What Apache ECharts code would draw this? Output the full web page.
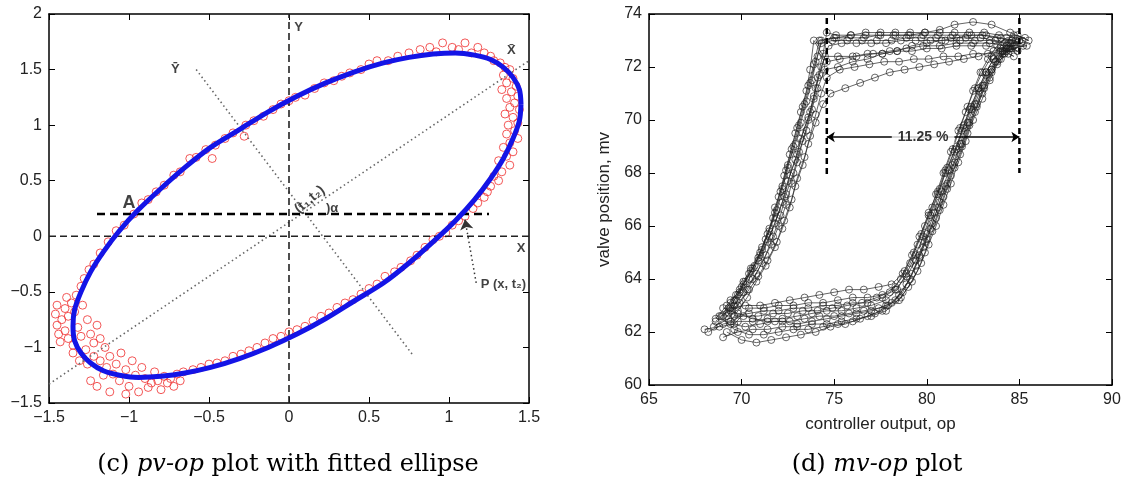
<!DOCTYPE html>
<html>
<head>
<meta charset="utf-8">
<script src="https://cdn.jsdelivr.net/npm/echarts@6/dist/echarts.min.js"></script>
<style>html,body{margin:0;padding:0;background:#fff}#c{width:1132px;height:482px}</style>
</head>
<body>
<div id="c"></div>
<script>
// ---------- left panel (pv-op) data ----------
const leftXTicks = [-1.5, 1.5, 0.5];
const leftYTicks = [-1.5, 2, 0.5];
// fitted ellipse
const ellipsePts = [
  [1.45,1.19],[1.44,1.32],[1.40,1.43],[1.34,1.52],[1.26,1.59],[1.16,1.63],[1.04,1.65],[0.90,1.64],
  [0.75,1.61],[0.59,1.56],[0.41,1.48],[0.23,1.38],[0.05,1.26],[-0.13,1.12],[-0.31,0.96],[-0.49,0.80],
  [-0.65,0.62],[-0.80,0.43],[-0.94,0.24],[-1.06,0.05],[-1.16,-0.14],[-1.24,-0.32],[-1.30,-0.50],[-1.34,-0.66],
  [-1.35,-0.81],[-1.34,-0.94],[-1.30,-1.05],[-1.24,-1.14],[-1.16,-1.21],[-1.06,-1.25],[-0.94,-1.27],[-0.80,-1.26],
  [-0.65,-1.23],[-0.49,-1.18],[-0.31,-1.10],[-0.13,-1.00],[0.05,-0.88],[0.23,-0.74],[0.41,-0.58],[0.59,-0.42],
  [0.75,-0.24],[0.90,-0.05],[1.04,0.14],[1.16,0.33],[1.26,0.52],[1.34,0.70],[1.40,0.88],[1.44,1.04],[1.45,1.19]
];
const upperArcPts = [
  [-1.22,-0.25],[-1.18,-0.15],[-1.13,-0.05],[-1.08,0.05],[-1.03,0.10],[-0.97,0.20],[-0.92,0.30],
  [-0.88,0.33],[-0.83,0.40],[-0.78,0.46],[-0.72,0.55],[-0.68,0.58],[-0.62,0.70],[-0.58,0.71],
  [-0.52,0.78],[-0.48,0.70],[-0.46,0.82],[-0.40,0.88],[-0.35,0.93],[-0.28,0.90],[-0.27,1.00],
  [-0.22,1.04],[-0.16,1.08],[-0.10,1.14],[-0.05,1.19],[0.00,1.22],[0.04,1.25],[0.10,1.27],
  [0.16,1.33],[0.22,1.38],[0.28,1.40],[0.33,1.44],[0.38,1.47],[0.45,1.50],[0.50,1.55],
  [0.55,1.58],[0.62,1.58],[0.68,1.62],[0.75,1.65],[0.82,1.68],[0.88,1.70],[0.92,1.66],
  [0.96,1.74],[1.02,1.70],[1.06,1.68],[1.10,1.74],[1.14,1.65],[1.18,1.70],[1.22,1.65],
  [1.26,1.62],[1.28,1.58],[1.32,1.56],[1.35,1.52]
];
const rightEndPts = [
  [1.38,1.50],[1.34,1.45],[1.40,1.42],[1.36,1.38],[1.42,1.35],[1.33,1.32],[1.39,1.30],
  [1.43,1.26],[1.36,1.24],[1.41,1.20],[1.38,1.16],[1.44,1.14],[1.35,1.10],[1.40,1.07],
  [1.43,1.02],[1.37,1.00],[1.41,0.95],[1.36,0.92],[1.43,0.88],[1.38,0.84],[1.34,0.80],
  [1.40,0.76],[1.36,0.72],[1.31,0.68],[1.38,0.64],[1.33,0.58],[1.28,0.54],[1.31,0.50],
  [1.26,0.45],[1.24,0.40],[1.22,0.35],[1.18,0.30],[1.15,0.25]
];
const lowerArcPts = [
  [1.10,0.18],[1.06,0.14],[1.02,0.10],[0.98,0.03],[0.94,0.00],[0.90,-0.03],[0.85,-0.10],
  [0.80,-0.17],[0.76,-0.22],[0.70,-0.28],[0.66,-0.32],[0.60,-0.36],[0.55,-0.43],[0.50,-0.47],
  [0.45,-0.52],[0.40,-0.57],[0.35,-0.60],[0.30,-0.64],[0.25,-0.69],[0.20,-0.72],[0.15,-0.76],
  [0.10,-0.81],[0.05,-0.84],[0.00,-0.86],[-0.05,-0.90],[-0.10,-0.92],[-0.15,-0.96],[-0.20,-1.00],
  [-0.25,-1.03],[-0.30,-1.06],[-0.35,-1.08],[-0.40,-1.12],[-0.45,-1.14],[-0.50,-1.15],
  [-0.55,-1.18],[-0.60,-1.20],[-0.66,-1.22],[-0.70,-1.24],[-0.74,-1.28],[-0.78,-1.26],
  [-0.82,-1.30],[-0.86,-1.32],[-0.90,-1.28]
];
const leftEndPts = [
  [-1.45,-0.80],[-1.44,-0.88],[-1.46,-0.70],[-1.42,-0.75],[-1.43,-0.95],[-1.40,-0.85],
  [-1.40,-0.65],[-1.38,-0.72],[-1.38,-0.92],[-1.36,-0.60],[-1.35,-0.98],[-1.33,-0.53],
  [-1.34,-0.68],[-1.32,-0.82],[-1.30,-0.45],[-1.30,-0.90],[-1.29,-0.62],[-1.28,-0.38],
  [-1.27,-1.02],[-1.26,-0.75],[-1.25,-0.30],[-1.24,-0.88],[-1.22,-1.08],[-1.22,-0.96],
  [-1.20,-0.80],[-1.18,-1.12],[-1.18,-0.92],[-1.15,-1.00],[-1.14,-1.18],[-1.12,-1.08],
  [-1.10,-1.24],[-1.08,-1.15],[-1.06,-1.30],[-1.05,-1.05],[-1.02,-1.20],[-1.00,-1.35],
  [-0.98,-1.12],[-0.96,-1.25],[-0.94,-1.40],[-0.92,-1.18],[-0.88,-1.36],[-0.84,-1.22],
  [-0.80,-1.38],[-0.76,-1.32],[-0.72,-1.35],[-0.68,-1.30],[-1.24,-1.30],[-1.20,-1.35],
  [-1.12,-1.40],[-1.35,-1.05],[-1.26,-1.15],[-1.16,-1.25],[-1.02,-1.42],[-1.31,-1.12],
  [-1.45,-0.62],[-1.39,-0.55]
];
const yAxisDash = [[0,-1.5],[0,2]];
const xAxisDash = [[-1.5,0],[1.5,0]];
const chordDash = [[-1.2,0.2],[1.25,0.2]];
const majorAxisDots = [[-1.5,-1.33],[1.5,1.58]];
const minorAxisDots = [[-0.58,1.5],[0.78,-1.08]];
const pArrow = [[1.17,-0.42],[1.1,0.15]];
const leftNotes = [
  ['Y', 0.06, 1.88],
  ['X', 1.45, -0.11],
  ['X\u0304', 1.39, 1.67],
  ['Y\u0304', -0.71, 1.50],
  ['A', -1.0, 0.30],
  ['P (x, t\u2082)', 1.34, -0.43],
  ['(t\u2081,t\u2082)', 0.13, 0.33],
  [')\u03b1', 0.27, 0.25]
];

// ---------- right panel (mv-op) data ----------
const rightXTicks = [65, 90, 5];
const rightYTicks = [60, 74, 2];
const loopA = [[69.6,62.6],[70.4,62.7],[71.2,62.8],[72.0,62.8],[72.8,62.9],[73.6,62.9],[74.4,63.0],[75.2,63.0],[76.0,63.1],[76.8,63.1],[77.6,63.3],[78.3,63.6],
  [78.9,64.1],[79.4,64.7],[79.9,65.4],[80.3,66.1],[80.7,66.9],[81.1,67.6],[81.5,68.4],[81.9,69.1],[82.3,69.9],[82.7,70.6],[83.1,71.3],[83.5,71.9],[83.9,72.4],[84.3,72.7],[84.7,72.8],[85.1,72.9],
  [84.5,72.9],[83.7,73.0],[82.9,73.1],[82.1,73.1],[81.3,73.1],[80.5,73.1],[79.7,73.1],[78.9,73.1],[78.1,73.0],[77.3,73.0],[76.5,73.0],[75.7,73.0],[74.9,73.0],[74.3,72.9],
  [74.0,72.2],[73.7,71.4],[73.4,70.6],[73.1,69.8],[72.8,69.0],[72.5,68.2],[72.2,67.4],[71.9,66.6],[71.5,65.8],[71.1,65.1],[70.6,64.4],[70.1,63.8],[69.7,63.2],[69.5,62.8]];
const loopB = [[69.2,62.0],[70.0,61.7],[70.8,61.6],[71.6,61.7],[72.4,61.8],[73.2,61.9],[74.0,62.0],[74.8,62.2],[75.6,62.3],[76.4,62.5],[77.2,62.7],[77.9,63.0],[78.5,63.4],
  [79.1,64.0],[79.6,64.8],[80.0,65.5],[80.5,66.3],[80.9,67.1],[81.3,67.9],[81.8,68.7],[82.2,69.5],[82.6,70.3],[83.0,71.0],[83.4,71.6],[83.8,72.2],[84.2,72.6],[84.6,72.9],[85.0,73.0],
  [84.4,72.7],[83.6,72.6],[82.8,72.4],[82.0,72.3],[81.2,72.2],[80.4,72.1],[79.6,72.0],[78.8,71.9],[78.0,71.8],[77.2,71.6],[76.4,71.4],[75.6,71.2],[74.8,71.0],
  [74.4,70.6],[74.0,69.9],[73.6,69.1],[73.3,68.3],[72.9,67.5],[72.6,66.7],[72.2,65.9],[71.8,65.2],[71.3,64.5],[70.8,63.9],[70.3,63.3],[69.8,62.8],[69.4,62.4]];
const loopC = [[68.6,62.4],[69.4,62.9],[70.2,63.0],[71.0,63.0],[71.8,63.1],[72.6,63.2],[73.4,63.3],[74.2,63.4],[75.0,63.5],[75.8,63.6],[76.6,63.6],[77.4,63.7],[78.1,63.8],
  [78.7,64.2],[79.2,64.9],[79.6,65.6],[80.1,66.4],[80.5,67.2],[80.9,68.0],[81.3,68.8],[81.7,69.6],[82.1,70.3],[82.5,71.1],[82.9,71.8],[83.3,72.3],[83.8,72.8],[84.3,73.1],[84.9,73.2],[85.5,73.0],
  [84.5,73.3],[83.5,73.6],[82.5,73.7],[81.5,73.6],[80.7,73.4],[79.9,73.3],[79.1,73.3],[78.3,73.3],[77.5,73.3],[76.7,73.3],[75.9,73.2],[75.1,73.2],[74.6,73.3],
  [74.4,72.5],[74.1,71.6],[73.9,70.8],[73.6,70.0],[73.3,69.2],[73.0,68.4],[72.7,67.6],[72.4,66.8],[72.0,66.0],[71.6,65.3],[71.1,64.6],[70.6,64.0],[70.1,63.5],[69.6,63.0],[69.0,62.6]];
const loopD = [[68.2,62.0],[69.0,62.3],[69.8,62.4],[70.6,62.4],[71.4,62.5],[72.2,62.5],[73.0,62.6],[73.8,62.7],[74.6,62.8],[75.4,62.8],[76.2,62.9],[77.0,63.0],[77.8,63.2],
  [78.4,63.6],[78.9,64.2],[79.4,64.9],[79.8,65.6],[80.2,66.4],[80.6,67.2],[81.0,68.0],[81.5,68.8],[81.9,69.6],[82.3,70.4],[82.8,71.2],[83.2,71.8],[83.6,72.3],[84.1,72.6],[84.5,72.7],[85.2,72.8],
  [84.3,72.8],[83.4,72.9],[82.5,72.9],[81.6,72.9],[80.7,72.8],[79.8,72.8],[78.9,72.7],[78.0,72.6],[77.1,72.5],[76.2,72.4],[75.3,72.3],[74.6,72.2],[73.9,73.0],
  [73.7,71.9],[73.5,71.1],[73.2,70.3],[72.9,69.5],[72.6,68.7],[72.3,67.9],[72.0,67.1],[71.7,66.3],[71.3,65.5],[70.9,64.8],[70.4,64.2],[69.9,63.6],[69.4,63.1],[68.9,62.6]];
const loopE = [[69.0,61.8],[69.8,62.0],[70.6,62.1],[71.4,62.1],[72.2,62.2],[73.0,62.2],[73.8,62.3],[74.6,62.3],[75.4,62.4],[76.2,62.5],[77.0,62.6],[77.8,62.8],[78.6,63.3],
  [79.2,63.9],[79.7,64.6],[80.1,65.3],[80.5,66.0],[80.9,66.8],[81.3,67.6],[81.7,68.4],[82.1,69.2],[82.5,70.0],[83.0,70.8],[83.4,71.5],[83.8,72.1],[84.2,72.5],[84.6,72.7],[85.4,72.8],
  [84.6,73.0],[83.8,73.1],[83.0,73.2],[82.2,73.2],[81.4,73.2],[80.6,73.2],[79.8,73.2],[79.0,73.2],[78.2,73.2],[77.4,73.2],[76.6,73.1],[75.8,73.1],[75.0,73.1],[74.3,73.0],
  [74.1,72.4],[73.8,71.5],[73.5,70.7],[73.2,69.9],[72.9,69.1],[72.5,68.3],[72.2,67.5],[71.8,66.7],[71.5,65.9],[71.1,65.2],[70.7,64.5],[70.2,63.9],[69.8,63.4],[69.3,62.9]];
const loopF = [[68.5,62.2],[69.3,62.5],[70.1,62.6],[70.9,62.6],[71.7,62.7],[72.5,62.7],[73.3,62.8],[74.1,62.8],[74.9,62.9],[75.7,63.0],[76.5,63.1],[77.3,63.3],[78.0,63.5],
  [78.6,64.0],[79.1,64.6],[79.5,65.3],[79.9,66.0],[80.3,66.7],[80.7,67.4],[81.1,68.2],[81.6,69.0],[82.0,69.8],[82.4,70.5],[82.8,71.2],[83.2,71.8],[83.6,72.3],[84.0,72.6],[84.4,72.9],[84.8,73.0],
  [84.0,73.1],[83.2,73.2],[82.4,73.2],[81.6,73.1],[80.8,73.0],[80.0,72.9],[79.2,72.8],[78.4,72.6],[77.6,72.5],[76.8,72.3],[76.0,72.2],[75.2,72.0],[74.5,71.9],
  [74.1,71.2],[73.8,70.4],[73.5,69.6],[73.1,68.8],[72.8,68.0],[72.4,67.2],[72.1,66.4],[71.7,65.6],[71.3,64.9],[70.8,64.2],[70.3,63.6],[69.8,63.0],[69.2,62.6]];
const loopG = [[69.4,62.3],[70.2,62.2],[71.0,62.3],[71.8,62.4],[72.6,62.4],[73.4,62.5],[74.2,62.6],[75.0,62.6],[75.8,62.7],[76.6,62.8],[77.4,62.9],[78.1,63.1],[78.7,63.5],
  [79.2,64.2],[79.6,64.9],[80.0,65.7],[80.4,66.5],[80.8,67.3],[81.2,68.1],[81.6,68.9],[82.0,69.7],[82.4,70.4],[82.8,71.1],[83.2,71.7],[83.7,72.2],[84.1,72.5],[84.5,72.7],[84.9,72.6],
  [84.2,72.9],[83.4,73.0],[82.6,73.0],[81.8,73.0],[81.0,73.0],[80.2,73.0],[79.4,73.0],[78.6,73.0],[77.8,72.9],[77.0,72.9],[76.2,72.9],[75.4,72.9],[74.7,72.8],
  [74.3,72.0],[74.0,71.2],[73.7,70.3],[73.3,69.5],[73.0,68.7],[72.6,67.9],[72.3,67.1],[71.9,66.3],[71.5,65.6],[71.0,64.9],[70.5,64.3],[70.0,63.7],[69.6,63.2],[69.3,62.7]];
const loopH = [[68.0,62.1],[68.8,62.2],[69.6,62.3],[70.4,62.9],[71.2,62.9],[72.0,63.0],[72.8,63.0],[73.6,63.1],[74.4,63.1],[75.2,63.2],[76.0,63.3],[76.8,63.3],[77.6,63.4],[78.3,63.7],
  [78.8,64.3],[79.3,65.0],[79.7,65.7],[80.1,66.5],[80.6,67.3],[81.0,68.1],[81.4,68.9],[81.8,69.7],[82.2,70.5],[82.6,71.2],[83.0,71.8],[83.5,72.4],[84.0,72.8],[84.6,73.0],[85.3,73.1],
  [84.7,73.2],[83.9,73.2],[83.1,73.3],[82.3,73.3],[81.5,73.3],[80.7,73.3],[79.9,73.3],[79.1,73.2],[78.3,73.2],[77.5,73.2],[76.7,73.2],[75.9,73.2],[75.1,73.1],[74.2,73.0],
  [73.9,72.1],[73.6,71.3],[73.3,70.5],[73.0,69.7],[72.7,68.9],[72.4,68.1],[72.1,67.3],[71.8,66.5],[71.4,65.7],[71.0,65.0],[70.5,64.4],[70.1,63.9],[69.7,63.4],[69.2,63.0],[68.6,62.5]];
const loopI = [[68.8,62.6],[69.6,62.1],[70.4,61.9],[71.2,61.9],[72.0,62.0],[72.8,62.1],[73.6,62.1],[74.4,62.2],[75.2,62.3],[76.0,62.4],[76.8,62.6],[77.6,62.8],[78.3,63.2],
  [78.9,63.8],[79.4,64.5],[79.8,65.2],[80.2,65.9],[80.6,66.7],[81.0,67.5],[81.4,68.3],[81.8,69.1],[82.2,69.9],[82.6,70.6],[83.0,71.3],[83.5,71.9],[83.9,72.3],[84.3,72.6],[84.8,72.7],
  [84.1,72.6],[83.3,72.5],[82.5,72.5],[81.7,72.4],[80.9,72.4],[80.1,72.3],[79.3,72.3],[78.5,72.2],[77.7,72.2],[76.9,72.1],[76.1,72.0],[75.3,71.9],[74.6,71.6],
  [74.3,71.0],[74.0,70.2],[73.7,69.4],[73.4,68.6],[73.0,67.8],[72.7,67.0],[72.3,66.2],[71.9,65.4],[71.4,64.7],[70.9,64.1],[70.4,63.6],[69.9,63.1],[69.4,62.8]];
const loopJ = [[69.0,62.9],[69.8,62.7],[70.6,62.5],[71.4,62.4],[72.2,62.4],[73.0,62.3],[73.8,62.4],[74.6,62.5],[75.4,62.6],[76.2,62.7],[77.0,62.8],[77.8,63.0],[78.5,63.2],
  [79.0,63.7],[79.5,64.3],[79.9,65.0],[80.3,65.8],[80.7,66.6],[81.1,67.4],[81.5,68.2],[81.9,69.0],[82.3,69.8],[82.7,70.5],[83.1,71.2],[83.5,71.8],[84.0,72.3],[84.4,72.5],[84.7,72.4],
  [84.0,72.7],[83.2,72.8],[82.4,72.8],[81.6,72.8],[80.8,72.7],[80.0,72.7],[79.2,72.6],[78.4,72.6],[77.6,72.5],[76.8,72.5],[76.0,72.4],[75.2,72.4],[74.5,72.4],
  [74.2,71.7],[73.9,70.9],[73.6,70.1],[73.2,69.3],[72.9,68.5],[72.5,67.7],[72.2,66.9],[71.8,66.1],[71.4,65.4],[70.9,64.7],[70.4,64.0],[69.9,63.5],[69.4,63.2]];
const loops = [loopA, loopB, loopC, loopD, loopE, loopF, loopG, loopH, loopI, loopJ];
const leftBand = [[74.6,73.85],[74.6,67.9]];
const rightBand = [[85.0,73.85],[85.0,68.0]];
const bandArrow = [[74.6,69.36],[85.0,69.36]];
const bandLabel = ['11.25 %', 79.8, 69.36];
const xName = 'controller output, op';
const yName = 'valve position, mv';

// ---------- chart ----------
const FONT = 'Liberation Sans, Arial, sans-serif';
const fmt = v => String(v).replace('-', '\u2212');
function axisBase(pos, idx, ticks, showLabel) {
  return {
    type: 'value', gridIndex: idx, position: pos,
    min: ticks[0], max: ticks[1], interval: ticks[2],
    axisLine: { show: true, onZero: false, lineStyle: { color: '#000', width: 1.5 } },
    axisTick: { show: true, inside: true, length: 6, lineStyle: { color: '#000', width: 1 } },
    axisLabel: { show: showLabel, formatter: fmt, fontFamily: FONT, fontSize: 16, color: '#222', margin: 7 },
    splitLine: { show: false }
  };
}
const xAxes = [
  axisBase('bottom', 0, leftXTicks, true),
  axisBase('top', 0, leftXTicks, false),
  Object.assign(axisBase('bottom', 1, rightXTicks, true), {
    name: xName, nameLocation: 'middle', nameGap: 31,
    nameTextStyle: { fontFamily: FONT, fontSize: 17, color: '#222' }
  }),
  axisBase('top', 1, rightXTicks, false)
];
const yAxes = [
  axisBase('left', 0, leftYTicks, true),
  axisBase('right', 0, leftYTicks, false),
  Object.assign(axisBase('left', 1, rightYTicks, true), {
    name: yName, nameLocation: 'middle', nameGap: 36,
    nameTextStyle: { fontFamily: FONT, fontSize: 17, color: '#222' }
  }),
  axisBase('right', 1, rightYTicks, false)
];

function seg(data, xi, yi, style, z) {
  return { type: 'line', xAxisIndex: xi, yAxisIndex: yi, data: data, symbol: 'none',
    lineStyle: style, z: z || 2, silent: true };
}
const hollowRed = { color: 'rgba(0,0,0,0)', borderColor: '#f03a3a', borderWidth: 1, opacity: 0.85 };
const series = [];
[upperArcPts, rightEndPts, lowerArcPts, leftEndPts].forEach(arr => {
  series.push({ type: 'scatter', xAxisIndex: 0, yAxisIndex: 0, data: arr, symbol: 'circle',
    symbolSize: 8, itemStyle: hollowRed, z: 2 });
});
series.push(seg(majorAxisDots, 0, 0, { color: '#666', width: 1.6, type: [1.5, 3] }, 3));
series.push(seg(minorAxisDots, 0, 0, { color: '#666', width: 1.6, type: [1.5, 3] }, 3));
series.push(seg(yAxisDash, 0, 0, { color: '#222', width: 1.6, type: [7, 4] }, 3));
series.push(seg(xAxisDash, 0, 0, { color: '#222', width: 1.6, type: [7, 4] }, 3));
series.push(seg(chordDash, 0, 0, { color: '#000', width: 2.6, type: [8, 5] }, 3));
series.push({ type: 'line', xAxisIndex: 0, yAxisIndex: 0, data: ellipsePts, symbol: 'none',
  smooth: 0.3, lineStyle: { color: '#1414e6', width: 5 }, z: 4, silent: true });
series.push({ type: 'lines', coordinateSystem: 'cartesian2d', xAxisIndex: 0, yAxisIndex: 0,
  data: [{ coords: pArrow }], symbol: ['none', 'arrow'], symbolSize: 10,
  lineStyle: { color: '#333', width: 1.5, type: [1.5, 3], opacity: 1 }, z: 5 });
series.push({ type: 'scatter', xAxisIndex: 0, yAxisIndex: 0, symbolSize: 0, z: 6, silent: true,
  data: leftNotes.map(n => {
    const big = n[0] === 'A';
    const tt = n[0].indexOf('t\u2081') >= 0;
    return { value: [n[1], n[2]], label: { show: true, position: 'inside', formatter: n[0],
      fontFamily: FONT, fontWeight: 'bold', fontSize: big ? 18 : (tt ? 14 : 13), color: '#111',
      rotate: tt ? 40 : 0 } };
  }) });

loops.forEach(lp => {
  series.push({ type: 'line', xAxisIndex: 2, yAxisIndex: 2, data: lp, symbol: 'circle', symbolSize: 7,
    showAllSymbol: true,
    itemStyle: { color: 'rgba(0,0,0,0)', borderColor: 'rgba(30,30,30,0.75)', borderWidth: 0.9 },
    lineStyle: { color: 'rgba(40,40,40,0.8)', width: 0.9 }, z: 2, silent: true });
});
series.push(seg(leftBand, 2, 2, { color: '#000', width: 2.5, type: [6, 4] }, 3));
series.push(seg(rightBand, 2, 2, { color: '#000', width: 2.5, type: [6, 4] }, 3));
series.push({ type: 'lines', coordinateSystem: 'cartesian2d', xAxisIndex: 2, yAxisIndex: 2,
  data: [{ coords: bandArrow }], symbol: ['arrow', 'arrow'], symbolSize: 8,
  lineStyle: { color: '#000', width: 1.5, opacity: 1 }, z: 4 });
series.push({ type: 'scatter', xAxisIndex: 2, yAxisIndex: 2, symbolSize: 0, z: 6, silent: true,
  data: [{ value: [bandLabel[1], bandLabel[2]], label: { show: true, position: 'inside',
    formatter: bandLabel[0], fontFamily: FONT, fontWeight: 'bold', fontSize: 14, color: '#000',
    backgroundColor: '#fff', padding: [1, 6] } }] });

const SERIF = 'DejaVu Serif, Liberation Serif, serif';
const capRich = {
  n: { fontFamily: SERIF, fontSize: 24, fill: '#000', color: '#000' },
  i: { fontFamily: SERIF, fontSize: 24, fontStyle: 'italic', fill: '#000', color: '#000' }
};
const option = {
  animation: false,
  backgroundColor: '#fff',
  grid: [
    { left: 49, top: 14, width: 480, height: 389, containLabel: false },
    { left: 649, top: 14, width: 463, height: 371, containLabel: false }
  ],
  xAxis: xAxes,
  yAxis: yAxes,
  series: series,
  graphic: [
    { type: 'text', x: 288, y: 465, style: { text: '{n|(c) }{i|pv-op}{n| plot with fitted ellipse}',
      rich: capRich, align: 'center', verticalAlign: 'middle' } },
    { type: 'text', x: 877, y: 465, style: { text: '{n|(d) }{i|mv-op}{n| plot}',
      rich: capRich, align: 'center', verticalAlign: 'middle' } }
  ]
};
const chart = echarts.init(document.getElementById('c'), null, { renderer: 'canvas' });
chart.setOption(option);
</script>
</body>
</html>
